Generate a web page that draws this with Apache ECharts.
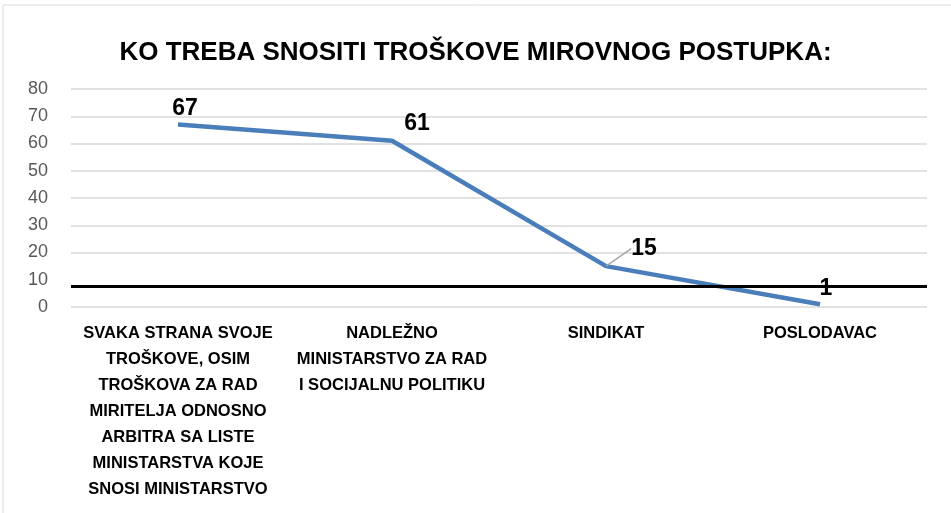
<!DOCTYPE html>
<html>
<head>
<meta charset="utf-8">
<script src="https://cdn.jsdelivr.net/npm/echarts@6/dist/echarts.min.js"></script>
<style>
  html, body { margin: 0; padding: 0; background: #fff; }
  #chart { width: 951px; height: 513px; }
</style>
</head>
<body>
<div id="chart"></div>
<script>
const categories = [
  'SVAKA STRANA SVOJE\nTROŠKOVE, OSIM\nTROŠKOVA ZA RAD\nMIRITELJA ODNOSNO\nARBITRA SA LISTE\nMINISTARSTVA KOJE\nSNOSI MINISTARSTVO',
  'NADLEŽNO\nMINISTARSTVO ZA RAD\nI SOCIJALNU POLITIKU',
  'SINDIKAT',
  'POSLODAVAC'
];
const values = [67, 61, 15, 1];
const refLineValue = 7.5;
// label nudges per point (dx, dy)
const labelShift = [[7, 0], [25, -2], [38, -2], [6, 0]];
const calloutIndex = 2;

const font = '"Liberation Sans", sans-serif';

const chart = echarts.init(document.getElementById('chart'));
chart.setOption({
  animation: false,
  title: {
    text: 'KO TREBA SNOSITI TROŠKOVE MIROVNOG POSTUPKA:',
    left: 'center',
    top: 35,
    textStyle: { fontFamily: font, fontSize: 26, fontWeight: 'bold', color: '#000' }
  },
  grid: { left: 71, right: 24, top: 89, bottom: 206, containLabel: false, outerBoundsMode: 'none' },
  graphic: [{
    type: 'rect',
    shape: { x: 3, y: 5, width: 1000, height: 600 },
    style: { fill: 'none', stroke: '#d9d9d9', lineWidth: 1 },
    silent: true
  }],
  xAxis: {
    type: 'category',
    data: categories,
    axisLine: { show: false },
    axisTick: { show: false },
    axisLabel: {
      interval: 0,
      margin: 13,
      fontFamily: font,
      fontSize: 16.5,
      fontWeight: 'bold',
      lineHeight: 26,
      color: '#000'
    }
  },
  yAxis: {
    type: 'value',
    min: 0,
    max: 80,
    interval: 10,
    axisLine: { show: false },
    axisTick: { show: false },
    axisLabel: { margin: 23, fontFamily: font, fontSize: 18, color: '#595959' },
    splitLine: {
      lineStyle: {
        color: ['#d9d9d9', 'rgba(0,0,0,0)', '#d9d9d9', '#d9d9d9', '#d9d9d9', '#d9d9d9', '#d9d9d9', '#d9d9d9', '#d9d9d9'],
        width: 1.5
      }
    }
  },
  series: [{
    type: 'line',
    data: values.map((v, i) => i === calloutIndex
      ? { value: v, labelLine: { show: true, lineStyle: { color: '#a6a6a6', width: 1.5 } } }
      : v),
    symbol: 'circle',
    symbolSize: 0,
    lineStyle: { color: '#4a7ebb', width: 4.5 },
    itemStyle: { color: '#4a7ebb' },
    label: {
      show: true,
      position: 'top',
      distance: 4,
      fontFamily: font,
      fontSize: 23,
      fontWeight: 'bold',
      color: '#000'
    },
    labelLine: { show: false },
    labelLayout: function (p) {
      const s = labelShift[p.dataIndex];
      return { dx: s[0], dy: s[1] };
    },
    markLine: {
      silent: true,
      symbol: 'none',
      label: { show: false },
      lineStyle: { color: '#000', width: 3, type: 'solid' },
      data: [{ yAxis: refLineValue }]
    }
  }]
});
</script>
</body>
</html>
